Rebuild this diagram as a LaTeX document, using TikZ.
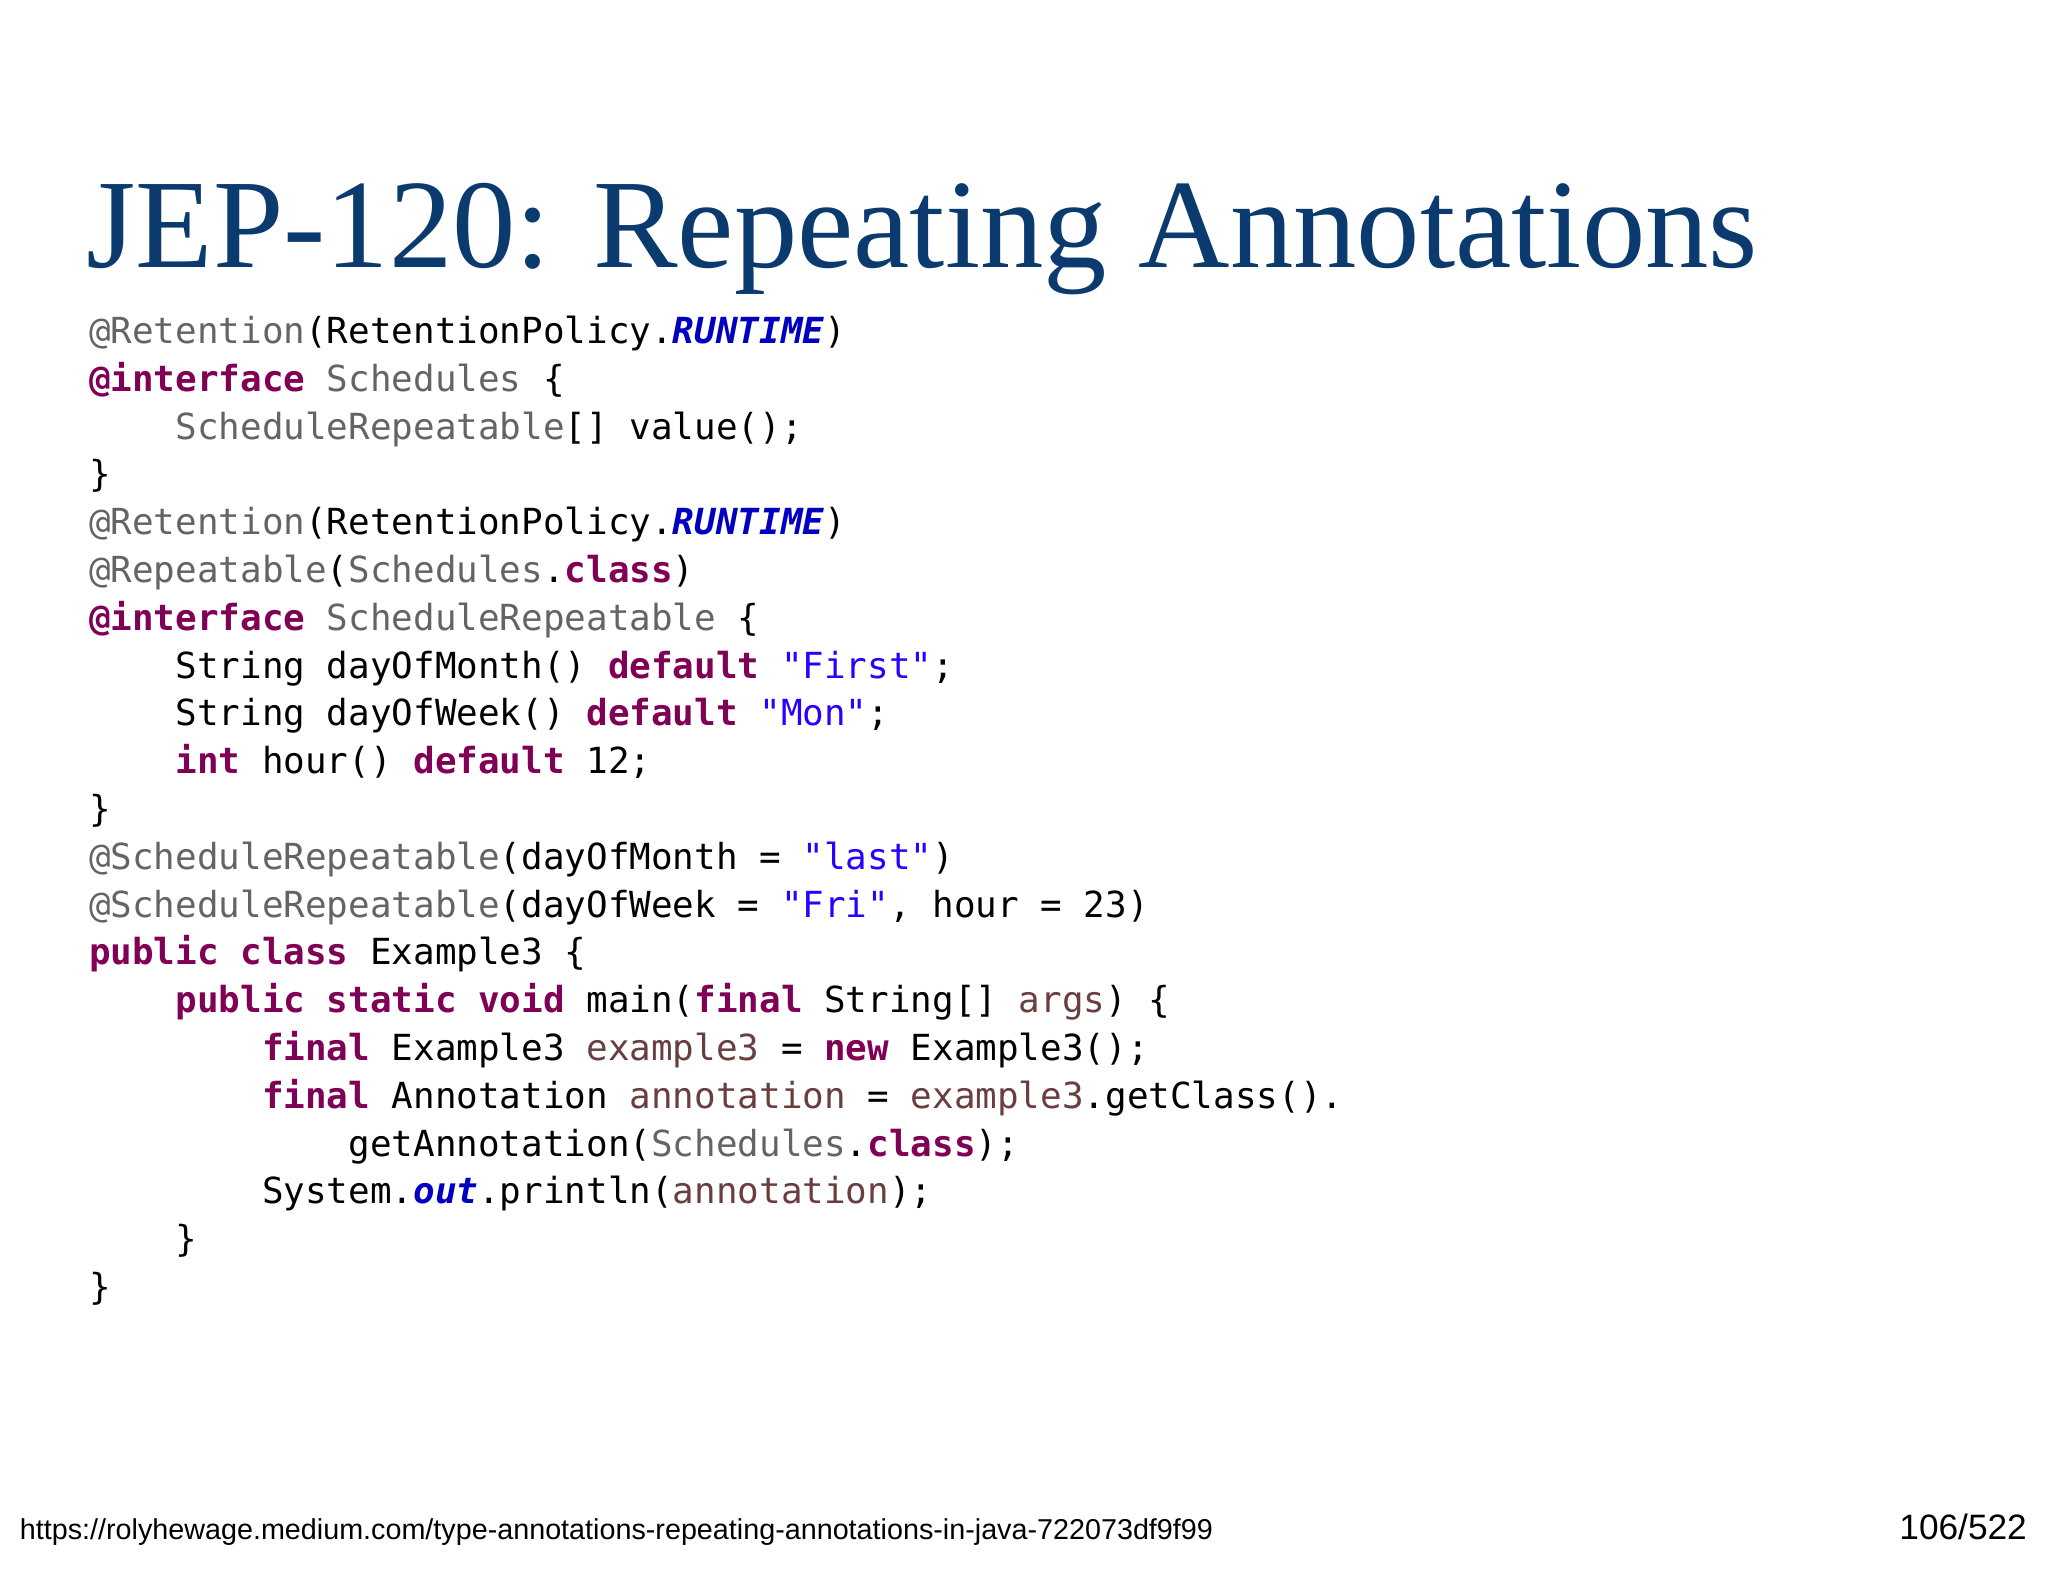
\documentclass[tikz,border=0pt]{standalone}
\usepackage{fontspec}
\setmainfont{Liberation Serif}
\newfontfamily\codefont{DejaVu Sans Mono}
\newfontfamily\footfont{Liberation Sans}
\definecolor{titleblue}{HTML}{0B3A6E}
\definecolor{kw}{HTML}{7F0055}
\definecolor{an}{HTML}{646464}
\definecolor{st}{HTML}{2A00FF}
\definecolor{cn}{HTML}{0000C0}
\definecolor{lv}{HTML}{6A3E3E}
\newcommand\K[1]{\textcolor{kw}{\bfseries #1}}
\newcommand\A[1]{\textcolor{an}{#1}}
\newcommand\Sq[1]{\textcolor{st}{#1}}
\newcommand\Cn[1]{\textcolor{cn}{\bfseries\itshape #1}}
\newcommand\V[1]{\textcolor{lv}{#1}}
\begin{document}
\begin{tikzpicture}[x=1pt,y=1pt,
  code/.style={anchor=base west,inner sep=0pt,font=\codefont\fontsize{27.5}{30}\selectfont}]
\useasboundingbox (0,0) rectangle (1568,1211);
\node[anchor=base west,inner sep=0pt,text=titleblue,font=\fontsize{97}{100}\selectfont] (title) at (66,1006) {JEP-120: Repeating Annotations};
\foreach \t [count=\i from 0] in {
{\A{@Retention}(RetentionPolicy.\Cn{RUNTIME})},
{\K{@interface} \A{Schedules} \{},
{~~~~\A{ScheduleRepeatable}[] value();},
{\}},
{\A{@Retention}(RetentionPolicy.\Cn{RUNTIME})},
{\A{@Repeatable}(\A{Schedules}.\K{class})},
{\K{@interface} \A{ScheduleRepeatable} \{},
{~~~~String dayOfMonth() \K{default} \Sq{"First"};},
{~~~~String dayOfWeek() \K{default} \Sq{"Mon"};},
{~~~~\K{int} hour() \K{default} 12;},
{\}},
{\A{@ScheduleRepeatable}(dayOfMonth = \Sq{"last"})},
{\A{@ScheduleRepeatable}(dayOfWeek = \Sq{"Fri"}, hour = 23)},
{\K{public} \K{class} Example3 \{},
{~~~~\K{public} \K{static} \K{void} main(\K{final} String[] \V{args}) \{},
{~~~~~~~~\K{final} Example3 \V{example3} = \K{new} Example3();},
{~~~~~~~~\K{final} Annotation \V{annotation} = \V{example3}.getClass().},
{~~~~~~~~~~~~getAnnotation(\A{Schedules}.\K{class});},
{~~~~~~~~System.\Cn{out}.println(\V{annotation});},
{~~~~\}},
{\}}}
  \node[code] (l\i) at (68,{1211-263-\i*36.6}) {\t};
\node[anchor=base west,inner sep=0pt,font=\footfont\fontsize{22}{24}\selectfont] (url) at (15,32) {https://rolyhewage.medium.com/type-annotations-repeating-annotations-in-java-722073df9f99};
\node[anchor=base east,inner sep=0pt,font=\footfont\fontsize{27}{30}\selectfont] (pg) at (1552,32) {106/522};
\end{tikzpicture}
\end{document}
